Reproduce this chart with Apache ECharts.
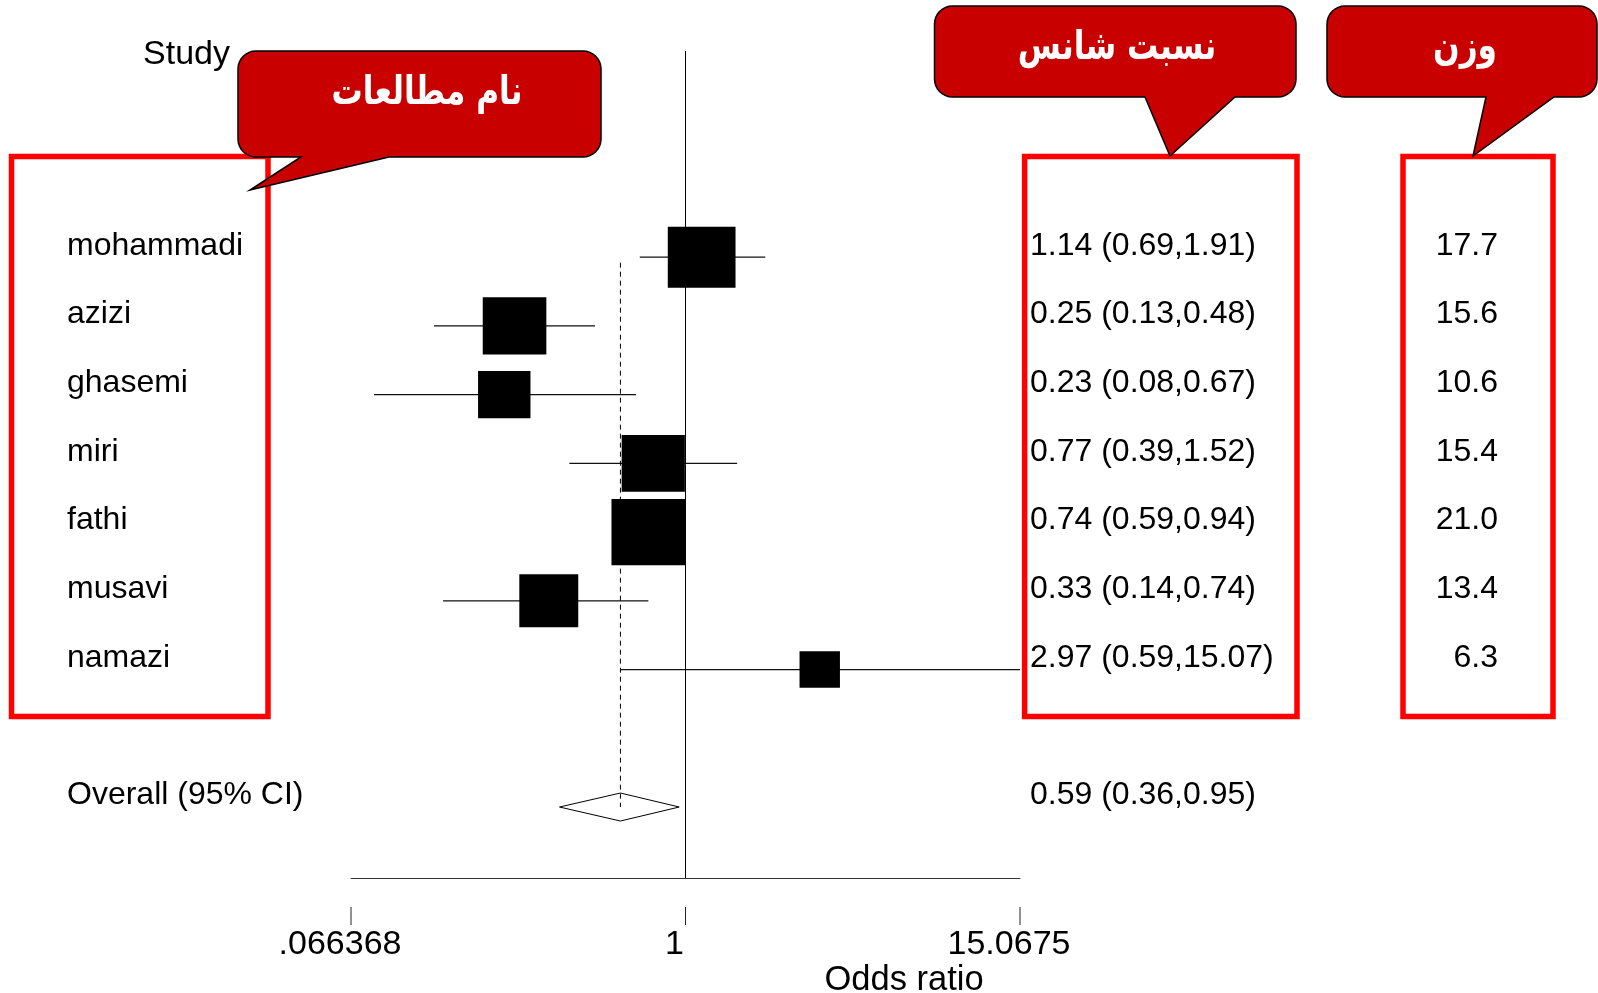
<!DOCTYPE html>
<html>
<head>
<meta charset="utf-8">
<script src="https://cdn.jsdelivr.net/npm/echarts@6.0.0/dist/echarts.min.js"></script>
<style>
  html, body { margin: 0; padding: 0; background: #fff; }
  #chart { width: 1598px; height: 993px; }
</style>
</head>
<body>
<div id="chart"></div>
<script>
// Study-level results of the meta-analysis
const studies   = ['mohammadi', 'azizi', 'ghasemi', 'miri', 'fathi', 'musavi', 'namazi'];
const oddsRatio = [1.14, 0.25, 0.23, 0.77, 0.74, 0.33, 2.97];
const ciLower   = [0.69, 0.13, 0.08, 0.39, 0.59, 0.14, 0.59];
const ciUpper   = [1.91, 0.48, 0.67, 1.52, 0.94, 0.74, 15.07];
const weights   = [17.7, 15.6, 10.6, 15.4, 21.0, 13.4, 6.3];

// Pooled estimate: [OR, lower, upper]
const overallLabel = 'Overall (95% CI)';
const overall = [0.59, 0.36, 0.95];

// Horizontal axis (log scale)
const axisTicks      = [0.066368, 1, 15.0675];
const axisTickLabels = ['.066368', '1', '15.0675'];

// Headings and callouts
const studyHeader = 'Study';
const axisTitle   = 'Odds ratio';
const calloutNames  = 'نام مطالعات';
const calloutOR     = 'نسبت شانس';
const calloutWeight = 'وزن';

const X_MIN = axisTicks[0];
const X_MAX = axisTicks[axisTicks.length - 1];
const OVERALL_ROW = studies.length + 1;

const TXT_FONT = '"Liberation Sans", Arial, sans-serif';
const FA_FONT = '"DejaVu Sans", sans-serif';

const fmt2 = v => v.toFixed(2);
const orText = (o, l, u) => `${fmt2(o)} (${fmt2(l)},${fmt2(u)})`;

const studyData = studies.map((s, i) => [oddsRatio[i], i, ciLower[i], ciUpper[i], weights[i]]);

// One text row per study plus the pooled row
const textRows = studies.map((s, i) => ({
  row: i, name: s, ci: orText(oddsRatio[i], ciLower[i], ciUpper[i]), w: weights[i].toFixed(1)
}));
textRows.push({ row: OVERALL_ROW, name: overallLabel, ci: orText(overall[0], overall[1], overall[2]), w: '' });

function textEl(x, y, text, size, align) {
  return {
    type: 'text', x: x, y: y,
    style: {
      text: text, fill: '#000', font: `${size}px ${TXT_FONT}`,
      align: align, verticalAlign: 'middle'
    }
  };
}

// Quarter-circle corner points
function corner(cx, cy, r, a0) {
  const pts = [];
  for (let k = 0; k <= 8; k++) {
    const a = a0 + (Math.PI / 2) * (k / 8);
    pts.push([cx + r * Math.cos(a), cy + r * Math.sin(a)]);
  }
  return pts;
}

// Speech-bubble outline: rounded box with a pointer from its bottom edge
function bubblePoints(L, T, R, B, r, baseL, baseR, tipX, tipY) {
  const P = Math.PI;
  return [].concat(
    corner(R - r, T + r, r, -P / 2),      // top-right
    corner(R - r, B - r, r, 0),           // bottom-right
    [[baseR, B], [tipX, tipY], [baseL, B]],
    corner(L + r, B - r, r, P / 2),       // bottom-left
    corner(L + r, T + r, r, P)            // top-left
  );
}

function bubble(points) {
  return {
    type: 'polygon', z: 50,
    shape: { points: points },
    style: { fill: '#C80000', stroke: '#000', lineWidth: 1.5 }
  };
}

// Persian caption, slightly condensed horizontally
function faText(x, y, text, size) {
  return {
    type: 'text', z: 60, x: x, y: y, scaleX: 0.78,
    style: {
      text: text, fill: '#fff', font: `bold ${size}px ${FA_FONT}`,
      align: 'center', verticalAlign: 'middle'
    }
  };
}

function redFrame(x1, y1, x2, y2) {
  return {
    type: 'rect', z: 40,
    shape: { x: x1, y: y1, width: x2 - x1, height: y2 - y1 },
    style: { fill: 'none', stroke: '#FF0000', lineWidth: 5.5 }
  };
}

const chart = echarts.init(document.getElementById('chart'), null, { renderer: 'canvas' });

const option = {
  backgroundColor: '#fff',
  animation: false,
  grid: { left: 351, right: 578, top: 51, bottom: 114.5 },
  xAxis: {
    type: 'log', logBase: 10, min: X_MIN, max: X_MAX,
    axisLine: { show: true, onZero: false, lineStyle: { color: '#333', width: 1 } },
    axisTick: { show: false }, axisLabel: { show: false }, splitLine: { show: false }
  },
  yAxis: {
    type: 'value', inverse: true, min: -3, max: 9.04, show: false,
    splitLine: { show: false }
  },
  series: [
    {
      // Whiskers and weight-scaled boxes
      type: 'custom', clip: false, z: 10,
      data: studyData,
      encode: { x: 0, y: 1 },
      renderItem(params, api) {
        const o = api.value(0), row = api.value(1);
        const lo = Math.max(api.value(2), X_MIN), hi = Math.min(api.value(3), X_MAX);
        const w = api.value(4);
        const c = api.coord([o, row]);
        const pL = api.coord([lo, row]), pH = api.coord([hi, row]);
        const bw = 16.1 * Math.sqrt(w), bh = 14.5 * Math.sqrt(w);
        return {
          type: 'group',
          children: [
            { type: 'line', shape: { x1: pL[0], y1: c[1], x2: pH[0], y2: c[1] },
              style: { stroke: '#111', lineWidth: 1.2 } },
            { type: 'rect', shape: { x: c[0] - bw / 2, y: c[1] - bh / 2, width: bw, height: bh },
              style: { fill: '#000' } }
          ]
        };
      },
      markLine: {
        silent: true, symbol: ['none', 'none'], label: { show: false },
        lineStyle: { color: '#000', width: 1, type: 'solid' },
        data: [{ xAxis: 1 }]
      }
    },
    {
      // Pooled estimate: diamond plus dashed reference line
      type: 'custom', clip: false, z: 11,
      data: [[overall[0], OVERALL_ROW, overall[1], overall[2]]],
      encode: { x: 0, y: 1 },
      renderItem(params, api) {
        const o = api.value(0), row = api.value(1);
        const c = api.coord([o, row]);
        const pL = api.coord([api.value(2), row]), pH = api.coord([api.value(3), row]);
        const top = api.coord([o, 0.08]);
        const h = 14;
        return {
          type: 'group',
          children: [
            { type: 'polygon',
              shape: { points: [[pL[0], c[1]], [c[0], c[1] - h], [pH[0], c[1]], [c[0], c[1] + h]] },
              style: { fill: 'none', stroke: '#000', lineWidth: 1 } },
            { type: 'line', shape: { x1: c[0], y1: top[1], x2: c[0], y2: c[1] },
              style: { stroke: '#000', lineWidth: 1, lineDash: [5, 4] } }
          ]
        };
      }
    },
    {
      // Text columns: study name, OR (95% CI), weight
      type: 'custom', clip: false, z: 12,
      data: textRows.map(t => [1, t.row]),
      encode: { x: 0, y: 1 },
      renderItem(params, api) {
        const t = textRows[params.dataIndex];
        const y = api.coord([1, api.value(1)])[1] - 11.5;
        const kids = [
          textEl(67, y, t.name, 32, 'left'),
          textEl(1030, y, t.ci, 32, 'left')
        ];
        if (t.w) kids.push(textEl(1498, y, t.w, 32, 'right'));
        return { type: 'group', children: kids };
      }
    },
    {
      // Axis ticks and labels below the axis line
      type: 'custom', clip: false, z: 12,
      data: axisTicks.map(v => [v, 9.04]),
      encode: { x: 0, y: 1 },
      renderItem(params, api) {
        const p = api.coord([api.value(0), api.value(1)]);
        return {
          type: 'group',
          children: [
            { type: 'line', shape: { x1: p[0], y1: p[1] + 28.5, x2: p[0], y2: p[1] + 46.5 },
              style: { stroke: '#222', lineWidth: 1 } },
            textEl(p[0] - 11, p[1] + 66.5, axisTickLabels[params.dataIndex], 34, 'center')
          ]
        };
      }
    }
  ],
  graphic: {
    elements: [
      textEl(230, 55, studyHeader, 34, 'right'),
      textEl(904, 980, axisTitle, 34.5, 'center'),
      redFrame(11.5, 156.5, 268, 716.5),
      redFrame(1024.6, 156.5, 1297, 716.5),
      redFrame(1403, 156.5, 1553, 716.5),
      bubble(bubblePoints(238, 51, 601, 157, 18, 301, 389, 250, 190)),
      bubble(bubblePoints(934.5, 6, 1296, 97, 18, 1145, 1235, 1170, 156)),
      bubble(bubblePoints(1327, 6, 1597, 97, 18, 1486, 1554, 1473, 156)),
      faText(427, 94, calloutNames, 40),
      faText(1117, 49, calloutOR, 40),
      faText(1465, 49, calloutWeight, 40)
    ]
  }
};

chart.setOption(option);
</script>
</body>
</html>
